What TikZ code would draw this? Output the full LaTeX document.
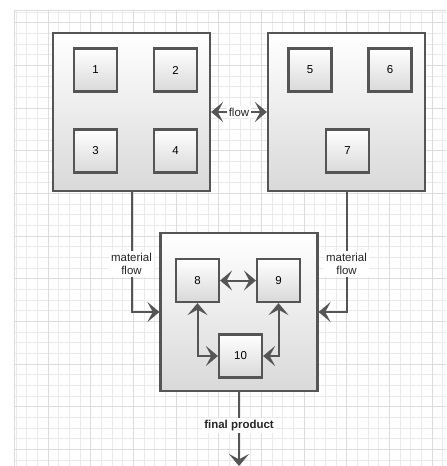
\documentclass[tikz,border=0pt]{standalone}
\usepackage{fontspec}
\setmainfont{Liberation Sans}
\usepackage{xcolor}
\definecolor{edgegray}{HTML}{555555}
\definecolor{gridminor}{HTML}{EBEBEB}
\definecolor{gridmajor}{HTML}{DDDDDD}
\usetikzlibrary{arrows.meta,positioning}

\begin{document}
\begin{tikzpicture}[
  x=0.75pt, y=-0.75pt,
  font=\fontsize{8.6}{10}\selectfont,
  box/.style={draw=edgegray, line width=1.6pt, top color=white, bottom color=black!15, inner sep=0pt},
  cell/.style={box, minimum width=117.75pt, minimum height=118.5pt},
  unit/.style={box, minimum size=32.25pt},
  tip/.tip={Stealth[length=9pt, width=15pt, inset=4pt]},
  arr/.style={-tip, draw=edgegray, line width=1.5pt},
  darr/.style={arr, tip-tip},
  lbl/.style={fill=white, inner sep=1.5pt, align=center, text=black!85},
]
% --- page and grid ---------------------------------------------------------
\useasboundingbox (0,0) rectangle (446,466);
\fill[white] (0,0) rectangle (446,466);
\begin{scope}
  \clip (14,10) rectangle (446,466);
  \foreach \k in {0,...,41} \draw[gridminor, line width=0.6pt] ({5.33+10.667*\k},10) -- ({5.33+10.667*\k},466);
  \foreach \k in {0,...,43} \draw[gridminor, line width=0.6pt] (14,{1.33+10.667*\k}) -- (446,{1.33+10.667*\k});
  \foreach \k in {0,4,...,40} \draw[gridmajor, line width=0.6pt] ({5.33+10.667*\k},10) -- ({5.33+10.667*\k},466);
  \foreach \k in {2,6,...,42} \draw[gridmajor, line width=0.6pt] (14,{1.33+10.667*\k}) -- (446,{1.33+10.667*\k});
  \draw[gridmajor, line width=0.6pt] (14,466) |- (446,10);
\end{scope}

% --- upper cells -----------------------------------------------------------
\node[cell] (cellA) at (131.5,112) {};
\node[cell] (cellB) at (346.5,112) {};
\node[unit] (u1) at (95.5,70) {1};
\node[unit] (u2) at (175.5,70) {2};
\node[unit] (u3) at (95.5,151) {3};
\node[unit] (u4) at (175.5,151) {4};
\node[unit] (u5) at (310,70) {5};
\node[unit] (u6) at (390,70) {6};
\node[unit] (u7) at (347.5,151) {7};

% --- assembly cell ---------------------------------------------------------
\node[cell] (cellC) at (239,312) {};
\node[unit] (u8) at (197.5,280.5) {8};
\node[unit] (u9) at (278.5,280.5) {9};
\node[unit] (u10) at (240.5,356) {10};

% --- arrows ----------------------------------------------------------------
\draw[darr] (cellA.east) -- node[lbl] {flow} (cellB.west);
\draw[arr] (cellA.south) |- node[lbl, pos=0.3] {material\\flow} (cellC.west);
\draw[arr] (cellB.south) |- node[lbl, pos=0.3] {material\\flow} (cellC.east);
\draw[darr] (u8.east) -- (u9.west);
\draw[darr] (u8.south) |- (u10.west);
\draw[darr] (u9.south) |- (u10.east);
\coordinate (out) at (cellC.south |- 0,466);
\draw[arr] (cellC.south) -- node[lbl, font=\fontsize{8.6}{10}\selectfont\bfseries, pos=0.45] {final product} (out);
\end{tikzpicture}
\end{document}
